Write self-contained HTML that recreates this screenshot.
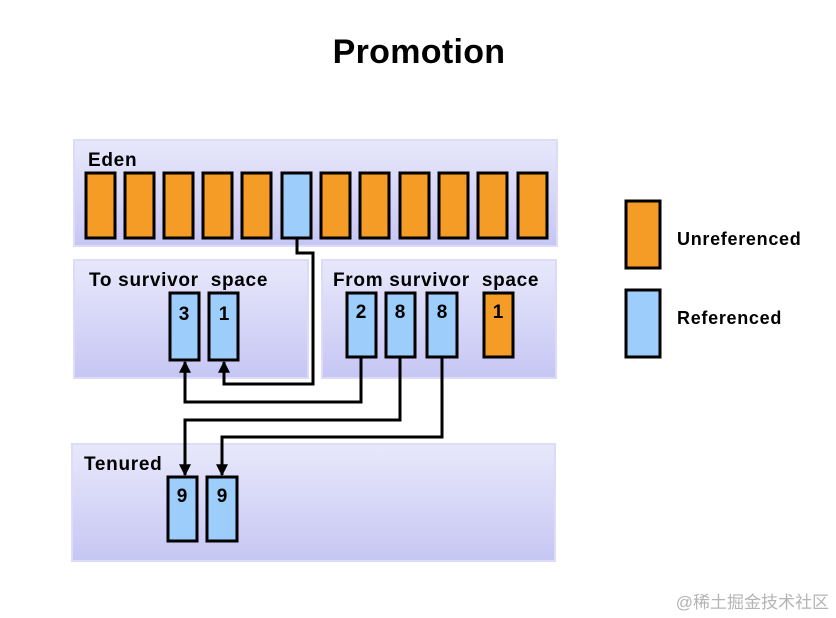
<!DOCTYPE html>
<html><head><meta charset="utf-8"><style>
html,body{margin:0;padding:0;background:#fff;width:836px;height:618px;overflow:hidden}
text{font-family:"Liberation Sans",Arial,sans-serif;font-weight:bold;fill:#000}
</style></head><body>
<svg width="836" height="618" viewBox="0 0 836 618" xmlns="http://www.w3.org/2000/svg">
<defs>
<linearGradient id="g" x1="0" y1="0" x2="0" y2="1">
<stop offset="0" stop-color="#e8e8fb"/><stop offset="1" stop-color="#c6c6f4"/>
</linearGradient>
<marker id="a" viewBox="0 0 10 10" refX="9" refY="5" markerWidth="4" markerHeight="4" orient="auto">
<path d="M0,0 L10,5 L0,10 z" fill="#000"/></marker>
</defs>
<text x="419" y="63" font-size="34" text-anchor="middle" letter-spacing="0.3">Promotion</text>

<rect x="74" y="140" width="483" height="106" fill="url(#g)" stroke="#dcdcf8" stroke-width="2"/>
<rect x="74" y="260" width="234" height="118" fill="url(#g)" stroke="#dcdcf8" stroke-width="2"/>
<rect x="322" y="260" width="234" height="118" fill="url(#g)" stroke="#dcdcf8" stroke-width="2"/>
<rect x="72" y="444" width="483" height="117" fill="url(#g)" stroke="#dcdcf8" stroke-width="2"/>

<g font-size="19" letter-spacing="0.7">
<text x="88" y="166">Eden</text>
<text x="89" y="286">To survivor&#160; space</text>
<text x="333" y="286">From survivor&#160; space</text>
<text x="84" y="470">Tenured</text>
</g>

<g stroke="#000" stroke-width="3">
<rect x="86" y="173" width="29" height="65" fill="#f49c25"/>
<rect x="125" y="173" width="29" height="65" fill="#f49c25"/>
<rect x="164" y="173" width="29" height="65" fill="#f49c25"/>
<rect x="203" y="173" width="29" height="65" fill="#f49c25"/>
<rect x="242" y="173" width="29" height="65" fill="#f49c25"/>
<rect x="282" y="173" width="29" height="65" fill="#9dcdfa"/>
<rect x="321" y="173" width="29" height="65" fill="#f49c25"/>
<rect x="360" y="173" width="29" height="65" fill="#f49c25"/>
<rect x="400" y="173" width="29" height="65" fill="#f49c25"/>
<rect x="439" y="173" width="29" height="65" fill="#f49c25"/>
<rect x="478" y="173" width="29" height="65" fill="#f49c25"/>
<rect x="518" y="173" width="29" height="65" fill="#f49c25"/>

<rect x="170" y="293" width="29" height="67" fill="#9dcdfa"/>
<rect x="209" y="293" width="29" height="67" fill="#9dcdfa"/>
<rect x="347" y="293" width="29" height="64" fill="#9dcdfa"/>
<rect x="386" y="293" width="29" height="64" fill="#9dcdfa"/>
<rect x="427" y="293" width="30" height="64" fill="#9dcdfa"/>
<rect x="484" y="293" width="29" height="64" fill="#f49c25"/>

<rect x="168" y="477" width="29" height="64" fill="#9dcdfa"/>
<rect x="207" y="477" width="30" height="64" fill="#9dcdfa"/>

<rect x="626" y="201" width="34" height="67" fill="#f49c25"/>
<rect x="626" y="290" width="34" height="67" fill="#9dcdfa"/>
</g>

<g font-size="19" text-anchor="middle">
<text x="184" y="320">3</text><text x="224" y="320">1</text>
<text x="361" y="318">2</text><text x="400" y="318">8</text><text x="442" y="318">8</text><text x="498" y="318">1</text>
<text x="182" y="502">9</text><text x="222" y="502">9</text>
</g>
<text x="677" y="245" font-size="18" letter-spacing="0.7">Unreferenced</text>
<text x="677" y="324" font-size="18" letter-spacing="0.7">Referenced</text>

<g fill="none" stroke="#000" stroke-width="3" stroke-linejoin="miter">
<polyline points="297,238 297,253 313,253 313,384 224,384 224,362" marker-end="url(#a)"/>
<polyline points="361,357 361,402 185,402 185,362" marker-end="url(#a)"/>
<polyline points="400,357 400,420 185,420 185,475" marker-end="url(#a)"/>
<polyline points="442,357 442,437 222,437 222,475" marker-end="url(#a)"/>
</g>

<text x="829" y="608" font-size="17" text-anchor="end" style="font-family:'Liberation Sans','Noto Sans CJK SC',sans-serif;font-weight:normal;fill:#b4b4b4">@稀土掘金技术社区</text>
</svg>
</body></html>
